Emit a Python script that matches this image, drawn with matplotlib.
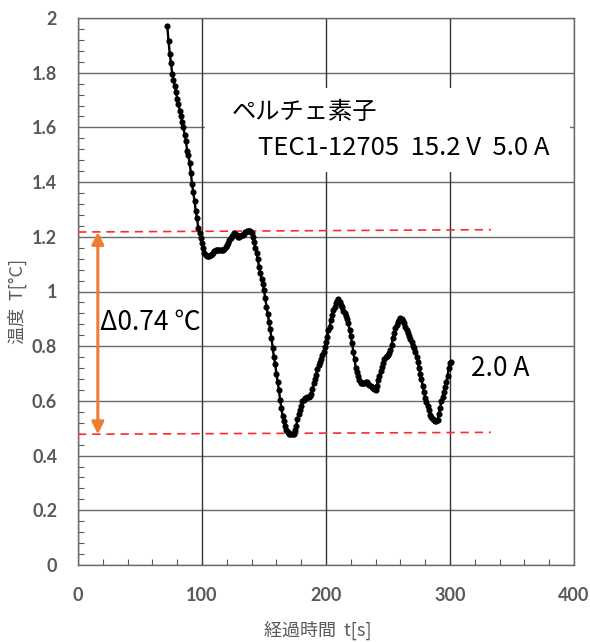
import matplotlib
matplotlib.use("Agg")
import matplotlib.pyplot as plt
from matplotlib.ticker import MultipleLocator, FuncFormatter
from matplotlib.patches import Rectangle

# ---- data ----
time_s = list(range(72, 302))
temp_c = [
    1.972, 1.915, 1.870, 1.835, 1.795, 1.775, 1.752, 1.731,           # 72-79
    1.703, 1.686, 1.660, 1.642, 1.618, 1.600, 1.574, 1.550, 1.515, 1.499,  # 80-89
    1.470, 1.435, 1.392, 1.362, 1.330, 1.293, 1.268, 1.232, 1.214, 1.195,  # 90-99
    1.176, 1.160, 1.142, 1.132, 1.128, 1.128, 1.130, 1.132, 1.138, 1.142,  # 100-109
    1.148, 1.150, 1.151, 1.151, 1.152, 1.152, 1.152, 1.153, 1.155, 1.162,  # 110-119
    1.170, 1.178, 1.188, 1.196, 1.202, 1.208, 1.213, 1.210, 1.205, 1.200,  # 120-129
    1.200, 1.202, 1.205, 1.207, 1.212, 1.218, 1.221, 1.222, 1.223, 1.222,  # 130-139
    1.215, 1.200, 1.180, 1.160, 1.140, 1.118, 1.090, 1.068, 1.045, 1.028,  # 140-149
    1.005, 0.975, 0.945, 0.918, 0.890, 0.862, 0.830, 0.795, 0.760, 0.735,  # 150-159
    0.700, 0.670, 0.640, 0.605, 0.575, 0.545, 0.525, 0.510, 0.495, 0.487,  # 160-169
    0.480, 0.478, 0.478, 0.478, 0.480, 0.492, 0.510, 0.532, 0.552, 0.567,  # 170-179
    0.582, 0.598, 0.605, 0.610, 0.612, 0.613, 0.615, 0.618, 0.625, 0.645,  # 180-189
    0.665, 0.680, 0.695, 0.715, 0.732, 0.742, 0.755, 0.768, 0.780, 0.798,  # 190-199
    0.815, 0.834, 0.858, 0.872, 0.895, 0.915, 0.932, 0.945, 0.957, 0.966,  # 200-209
    0.971, 0.962, 0.952, 0.944, 0.930, 0.920, 0.912, 0.900, 0.884, 0.860,  # 210-219
    0.838, 0.812, 0.780, 0.752, 0.722, 0.705, 0.690, 0.676, 0.664, 0.664,  # 220-229
    0.664, 0.666, 0.670, 0.668, 0.662, 0.658, 0.655, 0.652, 0.648, 0.645,  # 230-239
    0.640, 0.655, 0.676, 0.692, 0.710, 0.724, 0.737, 0.752, 0.760, 0.765,  # 240-249
    0.768, 0.775, 0.786, 0.806, 0.830, 0.848, 0.865, 0.878, 0.888, 0.897,  # 250-259
    0.902, 0.900, 0.892, 0.884, 0.872, 0.860, 0.850, 0.838, 0.826, 0.814,  # 260-269
    0.802, 0.792, 0.778, 0.762, 0.742, 0.722, 0.700, 0.680, 0.656, 0.634,  # 270-279
    0.612, 0.595, 0.580, 0.565, 0.550, 0.542, 0.535, 0.530, 0.528, 0.528,  # 280-289
    0.530, 0.552, 0.575, 0.598, 0.615, 0.632, 0.650, 0.668, 0.690, 0.720,  # 290-299
    0.737, 0.743,                                                      # 300-301
]

upper_line_t = [0, 333]
upper_line_v = [1.2175, 1.226]
lower_line_t = [0, 333]
lower_line_v = [0.478, 0.485]
arrow_t = 16
arrow_top = 1.2175
arrow_bottom = 0.478

x_ticks = [0, 100, 200, 300, 400]
y_ticks = [0, 0.2, 0.4, 0.6, 0.8, 1.0, 1.2, 1.4, 1.6, 1.8, 2.0]

title_jp = "ペルチェ素子"
title_spec = "TEC1-12705  15.2 V  5.0 A"
delta_label = "Δ0.74 ℃"
current_label = "2.0 A"
xlabel = "経過時間  t[s]"
ylabel = "温度  T[°C]"

# ---- figure ----
CJK = ["Noto Sans CJK JP", "DejaVu Sans"]
plt.rcParams["font.family"] = CJK
fig = plt.figure(figsize=(5.9, 6.42), dpi=100)
ax = fig.add_axes([78 / 590, 1 - 565 / 642, (574 - 78) / 590, (565 - 18) / 642])

ax.set_xlim(0, 400)
ax.set_ylim(0, 2.0)
ax.set_xticks(x_ticks)
ax.set_yticks(y_ticks)
ax.xaxis.set_minor_locator(MultipleLocator(20))
ax.yaxis.set_minor_locator(MultipleLocator(0.04))
ax.yaxis.set_major_formatter(FuncFormatter(lambda v, p: "%g" % round(v, 2)))
ax.xaxis.set_major_formatter(FuncFormatter(lambda v, p: "%g" % v))

tick_color = "#595959"
ax.tick_params(axis="both", which="major", length=0, labelsize=13,
               labelcolor=tick_color)
ax.tick_params(axis="y", which="major", pad=15)
ax.tick_params(axis="x", which="major", pad=16)
ax.tick_params(axis="both", which="minor", direction="in", length=4,
               width=0.8, color="#595959")
ax.tick_params(axis="x", which="minor", top=False)
ax.tick_params(axis="y", which="minor", right=False)
for lab in ax.get_xticklabels() + ax.get_yticklabels():
    lab.set_fontfamily("Lato")
    lab.set_fontweight("bold")

ax.grid(False)
for v in y_ticks:
    ax.axhline(v, color="#6a6a6a", lw=1.0, zorder=1)
for t in x_ticks:
    ax.axvline(t, color="#333333", lw=1.0, zorder=1)
for s in ax.spines.values():
    s.set_color("#6a6a6a")
    s.set_linewidth(1.0)

# white box behind the title texts
ax.add_patch(Rectangle((102.4, 1.437), 294.4, 0.307, facecolor="white",
                       edgecolor="none", zorder=2))

# red dashed reference lines
ax.plot(upper_line_t, upper_line_v, color="#ff2a2a", lw=1.2,
        dashes=(5, 3.5), zorder=3)
ax.plot(lower_line_t, lower_line_v, color="#ff2a2a", lw=1.2,
        dashes=(5, 3.5), zorder=3)

# orange double arrow
ax.annotate("", xy=(arrow_t, arrow_bottom), xytext=(arrow_t, arrow_top),
            arrowprops=dict(arrowstyle="<|-|>", color="#ed7d31", lw=2.2,
                            mutation_scale=18, shrinkA=0, shrinkB=0),
            zorder=4)

# data
ax.plot(time_s, temp_c, color="black", lw=1.7, marker="o", markersize=3.4,
        zorder=5)

# texts
ax.text(124, 1.656, title_jp, fontsize=17.5, va="center", ha="left",
        zorder=6, color="black")
ax.text(145, 1.525, title_spec, fontsize=18.5, va="center", ha="left",
        zorder=6, color="black")
ax.text(17.5, 0.888, delta_label, fontsize=19, va="center", ha="left",
        zorder=6, color="black")
ax.text(317, 0.717, current_label, fontsize=19, va="center", ha="left",
        zorder=6, color="black")

fig.text(318 / 590, 1 - 630 / 642, xlabel, fontsize=13, color=tick_color,
         ha="center", va="center")
fig.text(17 / 590, 1 - 301 / 642, ylabel, fontsize=13, color=tick_color,
         ha="center", va="center", rotation=90)

fig.savefig("out.png", dpi=100, facecolor="white")
